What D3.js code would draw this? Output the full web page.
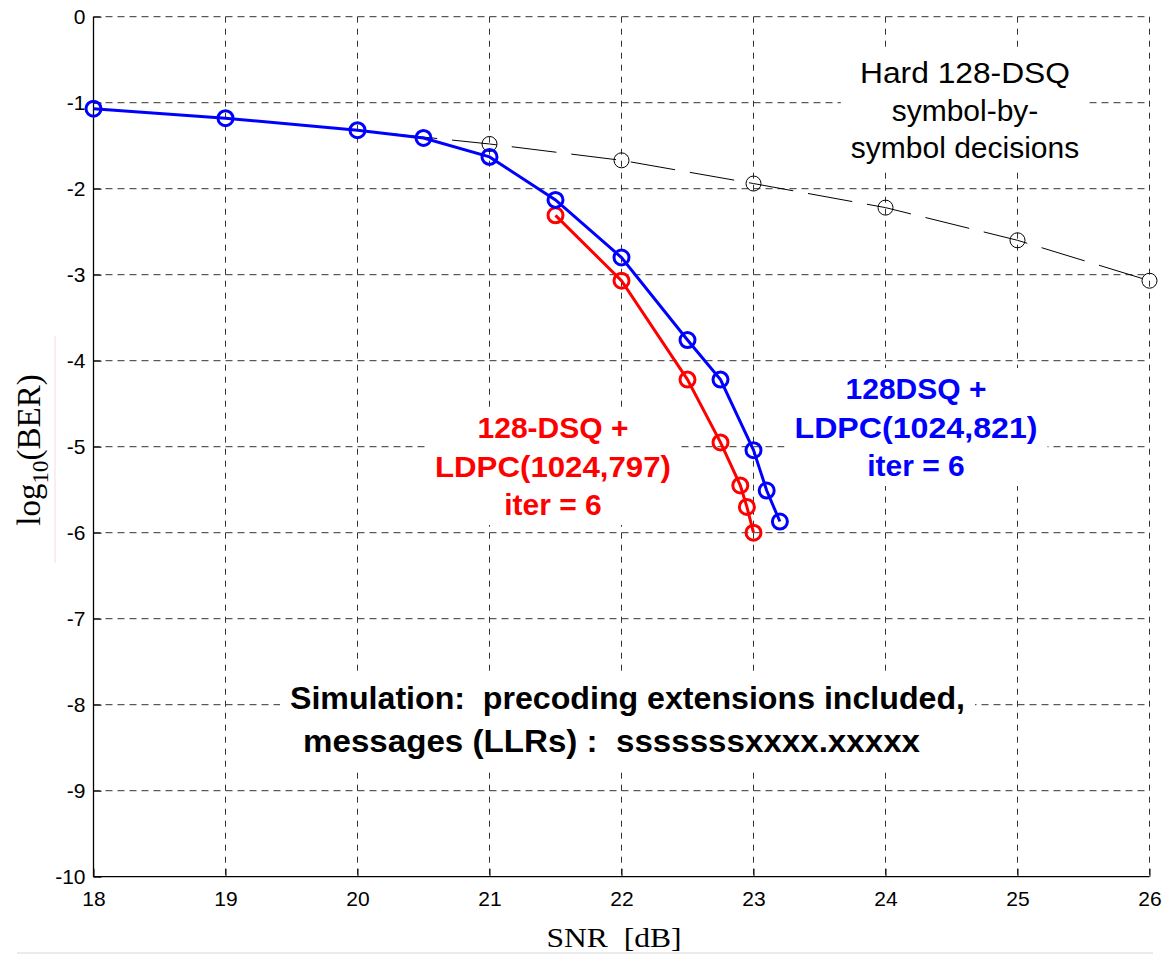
<!DOCTYPE html>
<html><head><meta charset="utf-8">
<script src="https://cdn.jsdelivr.net/npm/d3@7"></script>
<style>body{margin:0;background:#fff}svg{display:block}text{white-space:pre}</style>
</head><body>
<script>
// ---- data ----
const xTicks = [18,19,20,21,22,23,24,25,26];
const yTicks = [0,-1,-2,-3,-4,-5,-6,-7,-8,-9,-10];

const hardSNR = [18,19,20,21,22,23,24,25,26];
const hardBER = [-1.07,-1.18,-1.32,-1.48,-1.67,-1.94,-2.22,-2.60,-3.07];

const blueSNR = [18,19,20,20.5,21,21.5,22,22.5,22.75,23,23.1,23.2];
const blueBER = [-1.07,-1.18,-1.32,-1.41,-1.63,-2.13,-2.80,-3.76,-4.22,-5.04,-5.51,-5.87];

const redSNR = [21.5,22,22.5,22.75,22.9,22.95,23];
const redBER = [-2.31,-3.07,-4.22,-4.95,-5.45,-5.70,-6.00];

const W = 1167, H = 954;
const svg = d3.select("body").append("svg").attr("width",W).attr("height",H);

const x = d3.scaleLinear().domain([18,26]).range([93.5,1149.5]);
const y = d3.scaleLinear().domain([-10,0]).range([876.7,16.7]);

// grid
const g = svg.append("g");
g.selectAll(".vg").data(xTicks.filter(d=>d!==18)).enter().append("line")
  .attr("x1",d=>x(d)).attr("x2",d=>x(d)).attr("y1",y(0)).attr("y2",y(-10))
  .attr("stroke","#333").attr("stroke-width",1).attr("stroke-dasharray","6,6");
g.selectAll(".hg").data(yTicks.filter(d=>d!==-10)).enter().append("line")
  .attr("x1",x(18)).attr("x2",x(26)).attr("y1",d=>y(d)).attr("y2",d=>y(d))
  .attr("stroke","#333").attr("stroke-width",1).attr("stroke-dasharray","7,5");

// axes
const fmt = d=>String(d);
const xa = svg.append("g").attr("transform",`translate(0,${y(-10)})`)
  .call(d3.axisBottom(x).tickValues(xTicks).tickSize(-8).tickPadding(14).tickFormat(fmt));
const ya = svg.append("g").attr("transform",`translate(${x(18)},0)`)
  .call(d3.axisLeft(y).tickValues(yTicks).tickSize(-8).tickPadding(8).tickFormat(fmt));
[xa,ya].forEach(a=>{
  a.select(".domain").attr("stroke","#000").attr("stroke-width",1.3);
  a.selectAll(".tick line").attr("stroke","#000");
  a.selectAll(".tick text").attr("font-family","Liberation Sans, Arial, sans-serif").attr("font-size",21).attr("fill","#000");
});
xa.select(".domain").attr("d",`M${x(18)},0H${x(26)}`);
ya.select(".domain").attr("d",`M0,${y(-10)}V${y(0)}`);

// labelled text blocks with white backgrounds
function block(lines, opts){
  const grp = svg.append("g");
  const bg = grp.append("rect").attr("fill","#fff");
  const t = grp.append("text").attr("font-family","Liberation Sans, Arial, sans-serif")
    .attr("font-size",opts.size).attr("font-weight",opts.weight||"normal")
    .attr("fill",opts.color).attr("text-anchor",opts.anchor||"middle")
    .attr("xml:space","preserve");
  lines.forEach((s,i)=>{
    const ts = t.append("tspan").attr("x",opts.xs?opts.xs[i]:opts.x).attr("y",opts.y+i*opts.lh).text(s);
    if(opts.len && opts.len[i]) ts.attr("textLength",opts.len[i]).attr("lengthAdjust","spacingAndGlyphs");
  });
  const b = t.node().getBBox();
  const p = opts.pad||[8,8];
  bg.attr("x",b.x-p[0]).attr("y",b.y-p[1]).attr("width",b.width+2*p[0]).attr("height",b.height+2*p[1]);
  return grp;
}
block(["Hard 128-DSQ","symbol-by-","symbol decisions"],{x:965,y:83,lh:37.5,size:30,color:"#000",pad:[10,6],len:[210,null,null]});
block(["128-DSQ +","LDPC(1024,797)","iter = 6"],{x:553,y:438,lh:38.5,size:30,weight:"bold",color:"#f00",len:[null,236,null],pad:[10,4]});
block(["128DSQ +","LDPC(1024,821)","iter = 6"],{x:916,y:399,lh:38.5,size:30,weight:"bold",color:"#00f",len:[null,243,null],pad:[10,4]});
block(["Simulation:  precoding extensions included,","messages (LLRs) :  sssssssxxxx.xxxxx"],
  {xs:[290,303],y:709,lh:43,size:31,weight:"bold",color:"#000",anchor:"start",len:[675,617],pad:[10,10]});

// data lines
const line = d3.line().x(d=>x(d[0])).y(d=>y(d[1]));
const hard = hardSNR.map((s,i)=>[s,hardBER[i]]);
const blue = blueSNR.map((s,i)=>[s,blueBER[i]]);
const red = redSNR.map((s,i)=>[s,redBER[i]]);

svg.append("path").datum(hard).attr("d",line).attr("fill","none").attr("stroke","#000")
  .attr("stroke-width",1).attr("stroke-dasharray","45,15");
svg.selectAll(".hc").data(hard).enter().append("circle")
  .attr("cx",d=>x(d[0])).attr("cy",d=>y(d[1])).attr("r",7.5)
  .attr("fill","none").attr("stroke","#000").attr("stroke-width",1);

[[red,"#f00"],[blue,"#00f"]].forEach(([data,c])=>{
  svg.append("path").datum(data).attr("d",line).attr("fill","none").attr("stroke",c).attr("stroke-width",3);
  svg.selectAll(null).data(data).enter().append("circle")
    .attr("cx",d=>x(d[0])).attr("cy",d=>y(d[1])).attr("r",7.5)
    .attr("fill","none").attr("stroke",c).attr("stroke-width",3);
});

// axis titles
const yl = svg.append("text").attr("transform","translate(40,450) rotate(-90)")
  .attr("text-anchor","middle").attr("font-family","Liberation Serif, Times New Roman, serif")
  .attr("font-size",33).attr("fill","#000");
yl.append("tspan").text("log");
yl.append("tspan").attr("font-size",23).attr("dy",8).text("10");
yl.append("tspan").attr("dy",-8).text("(BER)");
svg.append("text").attr("x",614).attr("y",947).attr("text-anchor","middle")
  .attr("font-family","Liberation Serif, Times New Roman, serif").attr("font-size",28)
  .attr("xml:space","preserve").attr("textLength",135).attr("lengthAdjust","spacingAndGlyphs").text("SNR  [dB]");

// faint decorations
svg.append("line").attr("x1",17).attr("x2",1153).attr("y1",953).attr("y2",953).attr("stroke","#e4e4e4").attr("stroke-width",1.5);
svg.append("line").attr("x1",55).attr("x2",55).attr("y1",336).attr("y2",563).attr("stroke","#f4dcdc").attr("stroke-width",1);
</script>
</body></html>
